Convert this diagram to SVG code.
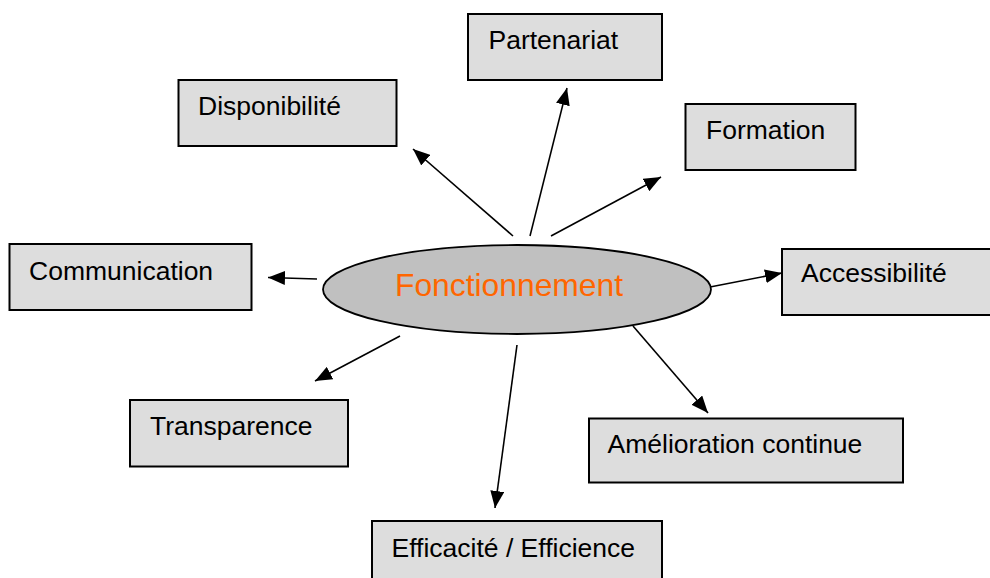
<svg xmlns="http://www.w3.org/2000/svg" width="990" height="578" viewBox="0 0 990 578">
<defs>
<style>
.box{fill:#dddddd;stroke:#000;stroke-width:2}
.lbl{font-family:"Liberation Sans",Arial,sans-serif;font-size:26.5px;fill:#000}
.con{stroke:#000;stroke-width:1.6;fill:none;marker-end:url(#ah)}
</style>
<marker id="ah" viewBox="0 0 17 14" refX="17" refY="7" markerWidth="17" markerHeight="14" markerUnits="userSpaceOnUse" orient="auto">
<path d="M0,0 L17,7 L0,14 z" fill="#000"/>
</marker>
</defs>
<rect width="990" height="578" fill="#fff"/>
<g id="connectors">
<line class="con" x1="513" y1="236" x2="413" y2="149"/>
<line class="con" x1="530" y1="236" x2="567" y2="88"/>
<line class="con" x1="551" y1="236" x2="661" y2="177"/>
<line class="con" x1="710" y1="287" x2="782" y2="273"/>
<line class="con" x1="633" y1="326" x2="708" y2="413"/>
<line class="con" x1="517" y1="345" x2="495" y2="508"/>
<line class="con" x1="317" y1="279" x2="268" y2="277.5"/>
<line class="con" x1="400" y1="336" x2="315" y2="381"/>
</g>
<g id="center">
<ellipse cx="517" cy="289.5" rx="194" ry="44.5" fill="#c0c0c0" stroke="#000" stroke-width="1.8"/>
<text x="395" y="296" font-family="Liberation Sans, Arial, sans-serif" font-size="31.8" fill="#ff6600">Fonctionnement</text>
</g>
<g id="disponibilite">
<rect class="box" x="178.5" y="80" width="218" height="66"/>
<text class="lbl" x="198" y="115">Disponibilité</text>
</g>
<g id="partenariat">
<rect class="box" x="468" y="14" width="194" height="66"/>
<text class="lbl" x="488.5" y="49">Partenariat</text>
</g>
<g id="formation">
<rect class="box" x="685.5" y="104" width="170" height="66"/>
<text class="lbl" x="706" y="139">Formation</text>
</g>
<g id="communication">
<rect class="box" x="9.5" y="244" width="242" height="66"/>
<text class="lbl" x="29" y="280">Communication</text>
</g>
<g id="accessibilite">
<rect class="box" x="782" y="249" width="212" height="66"/>
<text class="lbl" x="801" y="282">Accessibilité</text>
</g>
<g id="transparence">
<rect class="box" x="130" y="400" width="218" height="66.5"/>
<text class="lbl" x="150" y="435">Transparence</text>
</g>
<g id="amelioration">
<rect class="box" x="589" y="418.5" width="314" height="64"/>
<text class="lbl" x="607.5" y="453">Amélioration continue</text>
</g>
<g id="efficacite">
<rect class="box" x="372" y="521" width="290" height="66"/>
<text class="lbl" x="391.5" y="556.5">Efficacité / Efficience</text>
</g>
</svg>
